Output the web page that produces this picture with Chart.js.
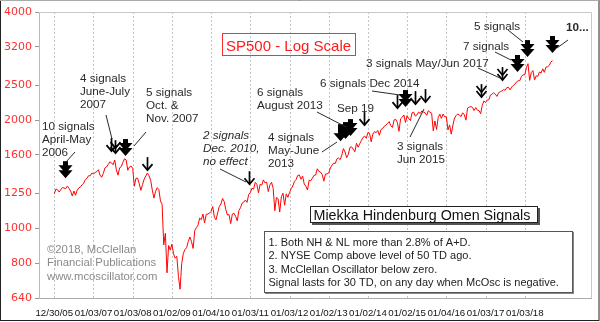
<!DOCTYPE html>
<html>
<head>
<meta charset="utf-8">
<script src="https://cdn.jsdelivr.net/npm/chart.js@4.4.0/dist/chart.umd.min.js"></script>
<style>
  html, body { margin: 0; padding: 0; background: #fff; }
  canvas { display: block; }
</style>
</head>
<body>
<canvas id="omenChart" width="600" height="322"></canvas>
<script>
// S&P 500 closes, two readings a month starting 12/30/05
const startYear = 2006;
const stepsPerYear = 24;
const spxCloses = [
  1248,
  1287, 1280, 1262, 1281, 1300, 1295, 1290, 1311, 1292, 1270, 1230, 1270,
  1236, 1277, 1296, 1304, 1322, 1336, 1366, 1378, 1401, 1400, 1425, 1418,
  1430, 1438, 1456, 1407, 1387, 1421, 1472, 1482, 1505, 1531, 1522, 1503,
  1549, 1455, 1406, 1474, 1484, 1527, 1562, 1549, 1451, 1481, 1490, 1468,
  1310, 1378, 1380, 1331, 1276, 1323, 1370, 1398, 1426, 1400, 1360, 1278,
  1214, 1267, 1298, 1282, 1192, 1166, 899, 969, 752, 896, 870, 903,
  850, 826, 836, 735, 677, 798, 852, 873, 883, 919, 946, 919,
  879, 987, 1005, 1021, 1068, 1057, 1096, 1036, 1094, 1096, 1102, 1115,
  1150, 1074, 1056, 1104, 1150, 1169, 1211, 1187, 1128, 1089, 1092, 1031,
  1096, 1102, 1080, 1049, 1121, 1141, 1176, 1183, 1199, 1181, 1242, 1258,
  1293, 1286, 1343, 1327, 1256, 1326, 1319, 1364, 1338, 1345, 1266, 1321,
  1344, 1292, 1120, 1219, 1209, 1110, 1224, 1253, 1160, 1247, 1220, 1258,
  1289, 1312, 1351, 1366, 1403, 1408, 1370, 1398, 1330, 1310, 1278, 1362,
  1357, 1379, 1405, 1407, 1465, 1441, 1434, 1412, 1353, 1416, 1418, 1426,
  1472, 1498, 1519, 1515, 1560, 1569, 1553, 1598, 1667, 1631, 1573, 1606,
  1680, 1686, 1661, 1633, 1725, 1682, 1721, 1757, 1791, 1806, 1781, 1848,
  1839, 1741, 1829, 1859, 1846, 1872, 1815, 1884, 1896, 1924, 1937, 1960,
  1981, 1931, 1909, 2003, 2011, 1972, 1862, 2018, 2039, 2068, 1972, 2059,
  2019, 1995, 2097, 2105, 2053, 2068, 2107, 2086, 2122, 2107, 2096, 2063,
  2126, 2104, 2091, 1868, 1990, 1884, 2033, 2079, 2023, 2080, 2043, 2044,
  1880, 1940, 1829, 1932, 2027, 2060, 2082, 2065, 2047, 2097, 2071, 2000,
  2161, 2174, 2184, 2171, 2127, 2168, 2133, 2126, 2085, 2199, 2262, 2239,
  2275, 2279, 2349, 2364, 2385, 2363, 2329, 2384, 2400, 2412, 2433, 2423,
  2463, 2470, 2430, 2472, 2500, 2519, 2557, 2575, 2578, 2648, 2675, 2674,
  2798, 2872, 2581, 2714, 2749, 2588, 2656, 2648, 2724, 2705, 2780, 2718,
  2810, 2816, 2840, 2902, 2930
];

const xTickYears = [2006, 2007, 2008, 2009, 2010, 2011, 2012, 2013, 2014, 2015, 2016, 2017, 2018];
const xTickLabels = ["12/30/05", "01/03/07", "01/03/08", "01/02/09", "01/04/10", "01/03/11", "01/03/12",
                     "01/02/13", "01/02/14", "01/02/15", "01/04/16", "01/03/17", "01/03/18"];
const yTicks = [640, 800, 1000, 1250, 1600, 2000, 2500, 3200, 4000];

// Omen signal arrows: date (decimal year) and the price level at the arrow tip
const signalDates = [2006.27, 2007.45, 2007.55, 2007.81, 2008.36, 2010.96, 2013.29, 2013.42, 2013.54, 2013.90,
                     2014.74, 2014.95, 2015.20, 2015.46, 2016.88, 2017.42, 2017.80, 2018.06, 2018.70];
const signalLevels = [1379, 1640, 1619, 1589, 1452, 1327, 1748, 1772, 1806, 1938,
                      2161, 2175, 2217, 2246, 2319, 2586, 2723, 2996, 3075];

// t = thin arrow, b = heavy arrow, 2 = stacked heads
const arrowKinds = ["b2", "t", "t2", "b2", "t", "t", "b", "b", "b2", "t",
                    "t", "b2", "t", "t", "t2", "t2", "b2", "b2", "b2"];

const textFont = "'Liberation Sans', Arial, sans-serif";

const notes = [
  { lines: ["10 signals", "April-May", "2006"], x: 42, y: 122, lead: [75, 152, 66, 162] },
  { lines: ["4 signals", "June-July", "2007"], x: 80, y: 74, lead: [106, 115, 112, 139] },
  { lines: ["5 signals", "Oct. &", "Nov. 2007"], x: 146, y: 88, lead: [146, 132, 134, 146] },
  { lines: ["2 signals", "Dec. 2010,", "no effect"], x: 203, y: 131, italic: true, lead: [220, 169, 246, 182] },
  { lines: ["4 signals", "May-June", "2013"], x: 268, y: 133, lead: [322, 152, 337, 142] },
  { lines: ["6 signals", "August 2013"], x: 257, y: 88, lead: [317, 112, 346, 127] },
  { lines: ["Sep 19"], x: 337, y: 104 },
  { lines: ["6 signals Dec 2014"], x: 320, y: 79, lead: [372, 91, 400, 95] },
  { lines: ["3 signals", "Jun 2015"], x: 397, y: 142, lead: [410, 137, 424, 109] },
  { lines: ["3 signals May/Jun 2017"], x: 366, y: 59, lead: [478, 68, 500, 78] },
  { lines: ["7 signals"], x: 463, y: 42, lead: [495, 52, 511, 60] },
  { lines: ["5 signals"], x: 474, y: 22, lead: [508, 30, 523, 42] },
  { lines: ["10..."], x: 566, y: 23, bold: true, lead: [568, 40, 557, 48] }
];

const rules = [
  "1. Both NH & NL more than 2.8% of A+D.",
  "2. NYSE Comp above level of 50 TD ago.",
  "3. McClellan Oscillator below zero.",
  "Signal lasts for 30 TD, on any day when McOsc is negative."
];

const credits = ["\u00a92018, McClellan", "Financial Publications", "www.mcoscillator.com"];

function drawArrow(ctx, x, tip, kind) {
  ctx.fillStyle = "#000";
  ctx.strokeStyle = "#000";
  const heads = kind[1] === "2" ? [0, 5] : [0];
  if (kind[0] === "b") {
    ctx.fillRect(x - 2.5, tip - 17, 5, 10);
    heads.forEach(off => {
      ctx.beginPath();
      ctx.moveTo(x - 7, tip - 8 - off);
      ctx.lineTo(x + 7, tip - 8 - off);
      ctx.lineTo(x, tip - off);
      ctx.closePath();
      ctx.fill();
    });
  } else {
    ctx.lineWidth = 1.7;
    ctx.beginPath();
    ctx.moveTo(x, tip - 13);
    ctx.lineTo(x, tip - 1);
    ctx.stroke();
    heads.forEach(off => {
      ctx.beginPath();
      ctx.moveTo(x - 5, tip - 6 - off);
      ctx.lineTo(x, tip - off);
      ctx.lineTo(x + 5, tip - 6 - off);
      ctx.stroke();
    });
  }
}

const omenOverlay = {
  id: "omenOverlay",
  beforeDatasetsDraw(chart) {
    const { ctx, chartArea: a, scales: { x } } = chart;
    ctx.save();
    ctx.strokeStyle = "#c4c4c4";
    ctx.lineWidth = 1;
    ctx.setLineDash([2, 2]);
    xTickYears.forEach(v => {
      const px = Math.round(x.getPixelForValue(v)) + 0.5;
      ctx.beginPath();
      ctx.moveTo(px, a.top);
      ctx.lineTo(px, a.bottom);
      ctx.stroke();
    });
    ctx.setLineDash([]);
    ctx.strokeStyle = "#c8c8c8";
    ctx.beginPath();
    ctx.moveTo(a.left, a.top + 0.5);
    ctx.lineTo(a.right + 0.5, a.top + 0.5);
    ctx.lineTo(a.right + 0.5, a.bottom);
    ctx.stroke();
    ctx.restore();
  },
  afterDatasetsDraw(chart) {
    const { ctx, scales: { x, y } } = chart;
    ctx.save();

    // signal arrows
    signalDates.forEach((d, i) => {
      drawArrow(ctx, Math.round(x.getPixelForValue(d)) + 0.5, y.getPixelForValue(signalLevels[i]), arrowKinds[i]);
    });

    // annotations and leader lines
    ctx.textBaseline = "alphabetic";
    notes.forEach(n => {
      ctx.fillStyle = "#2a2a2a";
      ctx.font = (n.italic ? "italic " : "") + (n.bold ? "bold " : "") + "11.7px " + textFont;
      n.lines.forEach((t, j) => ctx.fillText(t, n.x, n.y + 8.4 + j * 13));
      if (n.lead) {
        ctx.strokeStyle = "#2a2a2a";
        ctx.lineWidth = 1;
        ctx.beginPath();
        ctx.moveTo(n.lead[0], n.lead[1]);
        ctx.lineTo(n.lead[2], n.lead[3]);
        ctx.stroke();
      }
    });

    // chart title box
    ctx.strokeStyle = "#ff3030";
    ctx.lineWidth = 1;
    ctx.strokeRect(222.5, 33.5, 133, 22);
    ctx.fillStyle = "#ff1a1a";
    ctx.font = "15px " + textFont;
    ctx.fillText("SP500 - Log Scale", 226, 51);

    // legend heading with drop shadow
    ctx.fillStyle = "#555";
    ctx.fillRect(312, 208, 228, 17);
    ctx.fillStyle = "#fff";
    ctx.fillRect(310, 206, 228, 17);
    ctx.strokeStyle = "#222";
    ctx.strokeRect(310.5, 206.5, 227, 16);
    ctx.fillStyle = "#111";
    ctx.font = "14.3px " + textFont;
    ctx.fillText("Miekka Hindenburg Omen Signals", 313.5, 220);

    // signal rules
    ctx.fillStyle = "#888";
    ctx.fillRect(265, 232, 309, 62);
    ctx.fillStyle = "#fff";
    ctx.fillRect(264, 231, 309, 62);
    ctx.strokeStyle = "#555";
    ctx.strokeRect(264.5, 231.5, 308, 61);
    ctx.fillStyle = "#222";
    ctx.font = "11px " + textFont;
    rules.forEach((t, j) => ctx.fillText(t, 268.5, 246 + j * 13.4));

    // publisher credit
    ctx.fillStyle = "#8a8a8a";
    ctx.font = "11.3px " + textFont;
    [252.5, 266, 280].forEach((b, j) => ctx.fillText(credits[j], 47, b));

    ctx.restore();
  },
  afterDraw(chart) {
    const ctx = chart.ctx;
    ctx.save();
    ctx.strokeStyle = "#222";
    ctx.lineWidth = 1;
    ctx.strokeRect(0.5, 0.5, 598.5, 320);
    ctx.strokeStyle = "#aaa";
    ctx.beginPath();
    ctx.moveTo(0, 0.5);
    ctx.lineTo(599, 0.5);
    ctx.stroke();
    ctx.restore();
  }
};

const ctx = document.getElementById("omenChart").getContext("2d");
new Chart(ctx, {
  type: "line",
  data: {
    datasets: [{
      label: "SP500",
      data: spxCloses.map((v, i) => ({ x: startYear + i / stepsPerYear, y: v })),
      borderColor: "#ff0000",
      borderWidth: 1,
      pointRadius: 0,
      tension: 0
    }]
  },
  options: {
    responsive: false,
    animation: false,
    layout: { padding: { top: 12, right: 9, left: 0, bottom: 0 } },
    plugins: { legend: { display: false }, tooltip: { enabled: false } },
    scales: {
      x: {
        type: "linear",
        min: 2005.61,
        max: 2019.69,
        afterBuildTicks: s => { s.ticks = xTickYears.map(v => ({ value: v })); },
        afterFit: s => { s.height = 24; },
        grid: { display: false },
        border: { color: "#aaa" },
        ticks: {
          autoSkip: false,
          maxRotation: 0,
          padding: 2,
          color: "#111",
          font: { family: textFont, size: 9.7 },
          callback: (v, i) => xTickLabels[i]
        }
      },
      y: {
        type: "logarithmic",
        min: 640,
        max: 4000,
        afterBuildTicks: s => { s.ticks = yTicks.map(v => ({ value: v })); },
        afterFit: s => { s.width = 39; },
        grid: { drawOnChartArea: false, tickLength: 4, color: "#999" },
        border: { color: "#bbb" },
        ticks: {
          color: "#ff3030",
          padding: 3,
          font: { family: "'DejaVu Sans', sans-serif", size: 11 },
          callback: v => String(v)
        }
      }
    }
  },
  plugins: [omenOverlay]
});
</script>
</body>
</html>
